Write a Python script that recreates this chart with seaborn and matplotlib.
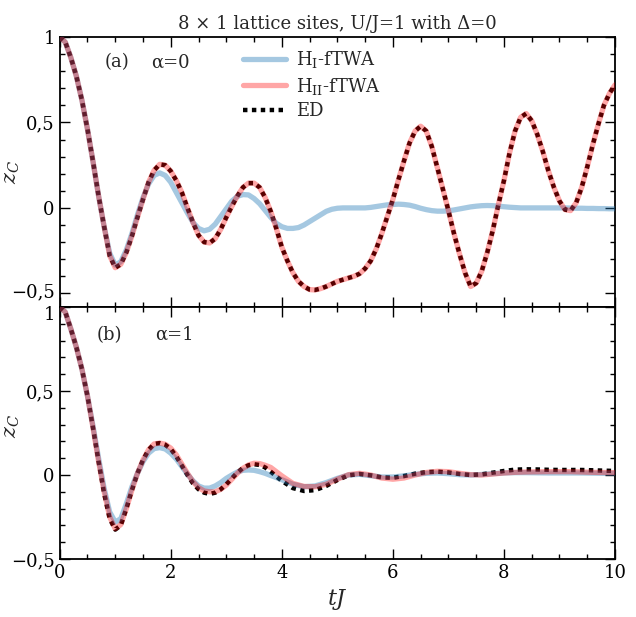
import numpy as np
import pandas as pd
import matplotlib
matplotlib.use('Agg')
import matplotlib.pyplot as plt
from matplotlib.ticker import FixedLocator, MultipleLocator, FixedFormatter
from matplotlib.transforms import ScaledTranslation
import seaborn as sns

# sample times (tJ)
t_a = np.round(np.arange(0, 10.001, 0.1), 1)
t_b = np.round(np.concatenate([np.arange(0, 4.001, 0.1), np.arange(4.2, 10.001, 0.2)]), 1)

# panel (a): alpha = 0
ed_a = [1.00, 0.97, 0.88, 0.77, 0.63, 0.46, 0.27, 0.07, -0.11, -0.28,
        -0.35, -0.33, -0.26, -0.165, -0.055, 0.05, 0.15, 0.22, 0.255, 0.25,
        0.215, 0.16, 0.09, 0.0, -0.085, -0.16, -0.20, -0.205, -0.18, -0.125,
        -0.055, 0.01, 0.07, 0.12, 0.145, 0.145, 0.12, 0.06, -0.02, -0.12,
        -0.23, -0.31, -0.38, -0.43, -0.46, -0.478, -0.48, -0.472, -0.46, -0.445,
        -0.43, -0.42, -0.41, -0.40, -0.385, -0.355, -0.31, -0.24, -0.15, -0.05,
        0.05, 0.165, 0.275, 0.38, 0.45, 0.478, 0.45, 0.36, 0.236, 0.11,
        -0.016, -0.15, -0.27, -0.38, -0.46, -0.44, -0.37, -0.26, -0.13, 0.02,
        0.16, 0.32, 0.45, 0.53, 0.552, 0.51, 0.43, 0.33, 0.217, 0.12,
        0.04, -0.01, -0.016, 0.03, 0.12, 0.24, 0.37, 0.49, 0.60, 0.67,
        0.72]
hII_a = ed_a  # H_II-fTWA lies on top of ED
hI_a = [1.00, 0.97, 0.88, 0.77, 0.63, 0.46, 0.27, 0.07, -0.11, -0.265,
        -0.335, -0.315, -0.245, -0.15, -0.04, 0.06, 0.14, 0.19, 0.205, 0.19,
        0.15, 0.09, 0.03, -0.03, -0.085, -0.12, -0.134, -0.125, -0.095, -0.05,
        -0.005, 0.04, 0.068, 0.078, 0.076, 0.055, 0.025, -0.015, -0.055, -0.09,
        -0.11, -0.12, -0.12, -0.115, -0.10, -0.08, -0.06, -0.04, -0.02, -0.008,
        -0.002, 0.0, 0.0, 0.0, 0.0, 0.0, 0.003, 0.008, 0.013, 0.018,
        0.02, 0.022, 0.02, 0.016, 0.008, -0.002, -0.01, -0.016, -0.019, -0.019,
        -0.017, -0.012, -0.006, 0.0, 0.006, 0.01, 0.013, 0.014, 0.013, 0.01,
        0.007, 0.004, 0.002, 0.0, 0.0, 0.0, 0.0, 0.0, 0.0, 0.0,
        0.0, 0.0, -0.001, -0.002, -0.002, -0.003, -0.003, -0.004, -0.004, -0.005,
        -0.005]

# panel (b): alpha = 1
ed_b = [1.0, 0.97, 0.87, 0.76, 0.63, 0.47, 0.28, 0.08, -0.11, -0.26,
        -0.325, -0.30, -0.20, -0.09, 0.01, 0.09, 0.15, 0.185, 0.19, 0.18,
        0.155, 0.11, 0.055, 0.0, -0.05, -0.085, -0.105, -0.113, -0.105, -0.085,
        -0.055, -0.02, 0.015, 0.042, 0.058, 0.064, 0.06, 0.045, 0.02, -0.008,
        -0.035,
        -0.078, -0.095, -0.09, -0.065, -0.03, -0.002, 0.006, -0.002, -0.014,
        -0.016, -0.006, 0.008, 0.017, 0.02, 0.015, 0.006, 0.0, 0.004, 0.014,
        0.024, 0.032, 0.034, 0.033, 0.031, 0.03, 0.03, 0.03, 0.028, 0.026,
        0.024]
hII_b = [1.0, 0.97, 0.87, 0.76, 0.63, 0.47, 0.28, 0.08, -0.10, -0.25,
         -0.32, -0.295, -0.20, -0.09, 0.01, 0.09, 0.15, 0.185, 0.19, 0.183,
         0.16, 0.12, 0.065, 0.01, -0.04, -0.075, -0.095, -0.10, -0.10, -0.085,
         -0.06, -0.025, 0.01, 0.04, 0.06, 0.07, 0.068, 0.058, 0.045, 0.02,
         -0.005,
         -0.05, -0.068, -0.07, -0.055, -0.025, 0.002, 0.01, 0.0, -0.018,
         -0.025, -0.018, 0.0, 0.015, 0.022, 0.02, 0.01, 0.002, 0.0, 0.006,
         0.012, 0.016, 0.018, 0.019, 0.02, 0.02, 0.02, 0.018, 0.016, 0.015,
         0.014]
hI_b = [1.0, 0.97, 0.87, 0.76, 0.63, 0.47, 0.29, 0.10, -0.08, -0.22,
        -0.28, -0.26, -0.17, -0.07, 0.01, 0.08, 0.13, 0.157, 0.163, 0.155,
        0.13, 0.095, 0.05, 0.005, -0.035, -0.065, -0.078, -0.078, -0.065, -0.045,
        -0.02, 0.0, 0.018, 0.028, 0.03, 0.028, 0.02, 0.01, -0.003, -0.015,
        -0.028,
        -0.055, -0.07, -0.065, -0.045, -0.02, 0.0, 0.004, -0.004, -0.012,
        -0.012, -0.005, 0.004, 0.01, 0.012, 0.008, 0.002, 0.0, 0.003, 0.008,
        0.012, 0.014, 0.014, 0.013, 0.012, 0.012, 0.012, 0.012, 0.011, 0.01,
        0.01]

ytick_vals = [-0.5, 0, 0.5, 1]
ytick_labels = ['\u22120,5', '0', '0,5', '1']
xtick_vals = [0, 2, 4, 6, 8, 10]

sns.set_style('ticks')
plt.rcParams['font.family'] = ['DejaVu Serif']
plt.rcParams['mathtext.fontset'] = 'dejavuserif'

fig = plt.figure(figsize=(6.36, 6.17), dpi=100)
ax1 = fig.add_axes([0.0939, 0.5024, 0.8731, 0.4376])
ax2 = fig.add_axes([0.0939, 0.0940, 0.8731, 0.4084], sharex=ax1)

lab_I = r'H$_{\mathrm{I}}$-fTWA'
lab_II = r'H$_{\mathrm{II}}$-fTWA'

for ax, t, ed, h1, h2 in [(ax1, t_a, ed_a, hI_a, hII_a), (ax2, t_b, ed_b, hI_b, hII_b)]:
    df = pd.DataFrame({'t': t, 'ed': ed, 'h1': h1, 'h2': h2})
    sns.lineplot(data=df, x='t', y='ed', ax=ax, color='black', lw=3.2,
                 linestyle=(0, (1, 1)), label='ED', zorder=2)
    sns.lineplot(data=df, x='t', y='h1', ax=ax, color='tab:blue', alpha=0.4,
                 lw=3.8, label=lab_I, zorder=3)
    sns.lineplot(data=df, x='t', y='h2', ax=ax, color='red', alpha=0.35,
                 lw=3.8, label=lab_II, zorder=4)

    ax.set_xlim(0, 10)
    ax.yaxis.set_major_locator(FixedLocator(ytick_vals))
    ax.yaxis.set_major_formatter(FixedFormatter(ytick_labels))
    ax.yaxis.set_minor_locator(MultipleLocator(0.1))
    ax.xaxis.set_major_locator(FixedLocator(xtick_vals))
    ax.xaxis.set_minor_locator(MultipleLocator(0.5))
    ax.tick_params(which='both', direction='in', top=True, right=True,
                   width=1, labelsize=13, colors='black')
    ax.tick_params(which='major', length=7)
    ax.tick_params(which='minor', length=3.5)
    for s in ax.spines.values():
        s.set_linewidth(1.3)
        s.set_color('black')
    ax.set_ylabel(r'$z_C$', fontsize=15)

ax1.yaxis.set_label_coords(-0.068, 0.5)
ax2.yaxis.set_label_coords(-0.068, 0.53)
ax1.set_ylim(-0.58, 1.0)
ax2.set_ylim(-0.5, 1.0)
ax1.tick_params(labelbottom=False)
ax1.set_xlabel('')
ax2.set_xlabel(r'$tJ$', fontsize=16, labelpad=4)

# legend in panel (a), order H_I, H_II, ED
handles, labels = ax1.get_legend_handles_labels()
order = [labels.index(lab_I), labels.index(lab_II), labels.index('ED')]
ax1.legend([handles[i] for i in order], [labels[i] for i in order],
           loc='upper left', bbox_to_anchor=(0.33, 0.955), frameon=False,
           fontsize=13, handlelength=2.4, handletextpad=0.55,
           labelspacing=0.3, borderpad=0, borderaxespad=0)
ax2.get_legend().remove()

ax1.text(0.103, 0.907, '(a)', transform=ax1.transAxes, fontsize=13,
         ha='center', va='center')
ax1.text(0.20, 0.907, '\u03b1=0', transform=ax1.transAxes, fontsize=13,
         ha='center', va='center')
ax2.text(0.09, 0.889, '(b)', transform=ax2.transAxes, fontsize=13,
         ha='center', va='center')
ax2.text(0.207, 0.889, '\u03b1=1', transform=ax2.transAxes, fontsize=13,
         ha='center', va='center')

ax1.set_title('8 \u00d7 1 lattice sites, U/J=1 with \u0394=0', fontsize=13, pad=6)

# nudge the two labels that meet at the panel boundary apart
fig.canvas.draw()
top_lab = ax2.yaxis.get_major_ticks()[-1].label1
top_lab.set_transform(top_lab.get_transform() + ScaledTranslation(0, -4 / 72, fig.dpi_scale_trans))
bot_lab = ax1.yaxis.get_major_ticks()[0].label1
bot_lab.set_transform(bot_lab.get_transform() + ScaledTranslation(0, 2 / 72, fig.dpi_scale_trans))

fig.savefig('out.png', dpi=100)
